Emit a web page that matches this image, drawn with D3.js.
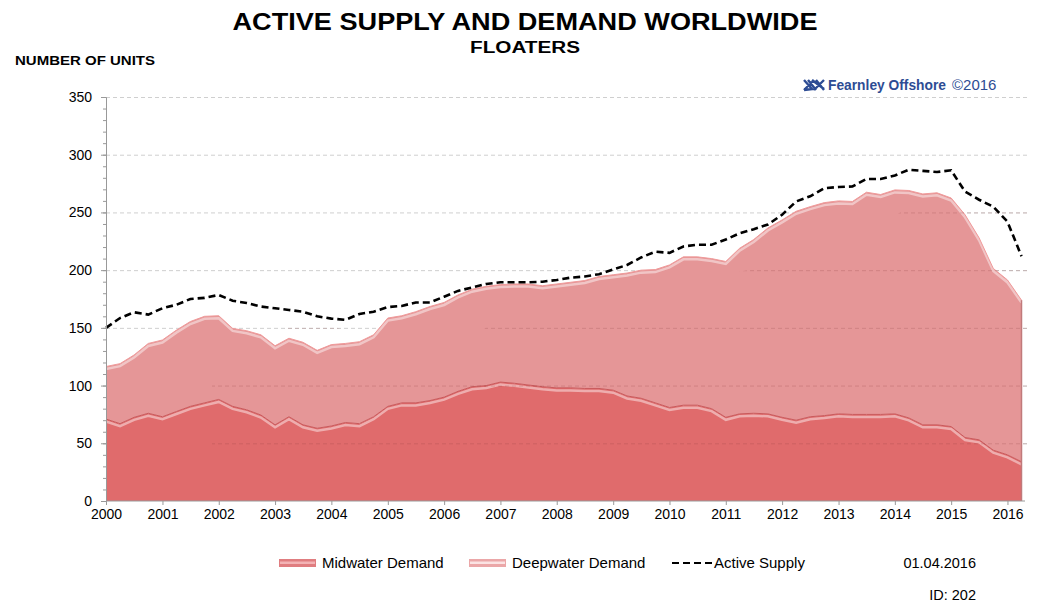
<!DOCTYPE html>
<html>
<head>
<meta charset="utf-8">
<script src="https://cdn.jsdelivr.net/npm/d3@7"></script>
<style>
  body { margin: 0; background: #fff; }
  svg text { font-family: "Liberation Sans", Arial, sans-serif; }
</style>
</head>
<body>
<svg id="chart" width="1038" height="604"></svg>
<script>
// quarterly observations
const periods = [
  "2000-01","2000-04","2000-07","2000-10","2001-01","2001-04","2001-07","2001-10",
  "2002-01","2002-04","2002-07","2002-10","2003-01","2003-04","2003-07","2003-10",
  "2004-01","2004-04","2004-07","2004-10","2005-01","2005-04","2005-07","2005-10",
  "2006-01","2006-04","2006-07","2006-10","2007-01","2007-04","2007-07","2007-10",
  "2008-01","2008-04","2008-07","2008-10","2009-01","2009-04","2009-07","2009-10",
  "2010-01","2010-04","2010-07","2010-10","2011-01","2011-04","2011-07","2011-10",
  "2012-01","2012-04","2012-07","2012-10","2013-01","2013-04","2013-07","2013-10",
  "2014-01","2014-04","2014-07","2014-10","2015-01","2015-04","2015-07","2015-10",
  "2016-01","2016-04"
];
const midwater = [
  71, 67, 72.5, 76, 73, 77.5, 82, 85,
  88, 82, 79, 74.5, 66, 73, 66, 63,
  65, 68, 67, 73, 82, 85, 85, 87,
  90, 95, 99, 100, 103, 102, 100.5, 99,
  98, 98, 97.5, 97.5, 96, 91, 89, 85,
  81, 83, 83, 80, 72.5, 75.5, 76, 75.5,
  72.5, 70, 73, 74, 75.5, 75, 75, 75,
  75.5, 72, 66, 66, 64.5, 55, 53, 44,
  40, 34
];
const deepwater = [
  45.5, 52, 54, 60.5, 66.5, 70.5, 73.5, 75,
  72.5, 67.5, 68.5, 69.5, 68.5, 68, 71.5, 67.5,
  70.5, 68.5, 71, 71, 76.5, 75.5, 79, 81.5,
  82, 83.5, 84.5, 86, 84.5, 86, 87.5, 87.5,
  90, 91.5, 93.5, 97, 100, 106.5, 111, 115.5,
  123.5, 128.5, 128.5, 130, 135, 143.5, 150.5, 161,
  171, 181, 182, 184.5, 184.5, 184.5, 192.5, 190.5,
  194, 197, 200, 201, 198, 193, 175, 157.5,
  151.5, 140
];
const activeSupply = [
  150, 158.5, 163.5, 161.5, 167, 170, 175, 176,
  178.5, 173.5, 171.5, 168.5, 167, 165.5, 164, 160,
  158, 157, 162, 164, 168, 169, 172, 172,
  177, 182, 185, 188, 189.5, 189.5, 189.5, 190,
  191.5, 193.5, 194.5, 196.5, 200.5, 204.5, 211, 216,
  215, 220.5, 222, 222, 226.5, 232, 235.5, 239.5,
  248, 259.5, 264, 271, 272, 272.5, 279, 279,
  282, 287, 286, 285, 286.5, 268, 261, 255,
  242, 212
];
const yTicks = [0, 50, 100, 150, 200, 250, 300, 350];

const parse = d3.timeParse("%Y-%m");
const rows = periods.map((p, i) => ({
  date: parse(p), mid: midwater[i], deep: deepwater[i], supply: activeSupply[i]
}));

const svg = d3.select("#chart");
const x = d3.scaleTime()
  .domain([parse("2000-01"), parse("2016-04")])
  .range([106, 1021.5]);
const y = d3.scaleLinear().domain([0, 350]).range([501, 97]);

// titles
svg.append("text").attr("x", 525).attr("y", 30).attr("text-anchor", "middle")
  .attr("font-size", 23).attr("font-weight", "bold")
  .attr("textLength", 585).attr("lengthAdjust", "spacingAndGlyphs")
  .text("ACTIVE SUPPLY AND DEMAND WORLDWIDE");
svg.append("text").attr("x", 525).attr("y", 53).attr("text-anchor", "middle")
  .attr("font-size", 16).attr("font-weight", "bold")
  .attr("textLength", 110).attr("lengthAdjust", "spacingAndGlyphs")
  .text("FLOATERS");
svg.append("text").attr("x", 15).attr("y", 65)
  .attr("font-size", 12.5).attr("font-weight", "bold")
  .attr("textLength", 140).attr("lengthAdjust", "spacingAndGlyphs")
  .text("NUMBER OF UNITS");

// gridlines (behind)
svg.append("g").attr("class", "gridlines")
  .attr("transform", "translate(106,0)")
  .call(d3.axisLeft(y).tickValues(yTicks.slice(1)).tickSize(-922).tickFormat(""))
  .call(g => g.select(".domain").remove())
  .call(g => g.selectAll("line").attr("stroke", "#cfcfcf").attr("stroke-dasharray", "4,3"));

// stacked areas
const stack = d3.stack().keys(["mid", "deep"]);
const layers = stack(rows);
const fills = { mid: "#e06b6c", deep: "#e59697" };
const edges = { mid: "#c9595b", deep: "#f09a9a" };
const area = d3.area().x(d => x(d.data.date)).y0(d => y(d[0])).y1(d => y(d[1]));
const topLine = d3.line().x(d => x(d.data.date)).y(d => y(d[1]));

svg.append("g").selectAll("path.area")
  .data(layers).join("path")
  .attr("class", "area")
  .attr("fill", d => fills[d.key])
  .attr("d", area);

// glossy edges on top of each layer
const edgeG = svg.append("g");
edgeG.selectAll("path.glow")
  .data(layers).join("path")
  .attr("fill", "none").attr("stroke", "#fff").attr("stroke-opacity", 0.45)
  .attr("stroke-width", 2.5)
  .attr("transform", "translate(0,2.5)")
  .attr("d", topLine);
edgeG.selectAll("path.edge")
  .data(layers).join("path")
  .attr("fill", "none").attr("stroke", d => edges[d.key])
  .attr("stroke-width", 1)
  .attr("d", topLine);

// right edge of area
const last = layers[1][layers[1].length - 1];
svg.append("line")
  .attr("x1", x(last.data.date)).attr("x2", x(last.data.date))
  .attr("y1", y(last[1])).attr("y2", y(0))
  .attr("stroke", "#c07a7b").attr("stroke-width", 1.5);

// gridlines faintly over the areas, clipped to the stacked shape
svg.append("clipPath").attr("id", "areaClip")
  .append("path")
  .attr("d", d3.area().x(d => x(d.data.date)).y0(y(0)).y1(d => y(d[1]))(layers[1]));
svg.append("g")
  .attr("transform", "translate(106,0)")
  .attr("clip-path", "url(#areaClip)")
  .call(d3.axisLeft(y).tickValues(yTicks.slice(1)).tickSize(-922).tickFormat(""))
  .call(g => g.select(".domain").remove())
  .call(g => g.selectAll("line").attr("stroke", "#8a3a3a").attr("stroke-opacity", 0.22).attr("stroke-dasharray", "4,3"));

// active supply
svg.append("path")
  .datum(rows)
  .attr("fill", "none").attr("stroke", "#000")
  .attr("stroke-width", 2.6).attr("stroke-dasharray", "7,4")
  .attr("d", d3.line().x(d => x(d.date)).y(d => y(d.supply)));

// y axis with minor ticks
const yMinor = svg.append("g").attr("transform", "translate(106,0)")
  .call(d3.axisLeft(y).ticks(35).tickSize(3).tickFormat(""));
yMinor.selectAll("line").attr("stroke", "#999");
yMinor.select(".domain").attr("stroke", "#999");
const yAxis = svg.append("g").attr("transform", "translate(106,0)")
  .call(d3.axisLeft(y).tickValues(yTicks).tickSize(5).tickPadding(9));
yAxis.select(".domain").remove();
yAxis.selectAll("line").attr("stroke", "#999");
yAxis.selectAll("text").attr("font-size", 14).attr("fill", "#000")
  .attr("font-family", "Liberation Sans, Arial, sans-serif");

// x axis
const xAxis = svg.append("g").attr("transform", "translate(0,501)")
  .call(d3.axisBottom(x).ticks(d3.timeYear.every(1)).tickFormat(d3.timeFormat("%Y"))
    .tickSize(4).tickPadding(4).tickSizeOuter(0));
xAxis.select(".domain").attr("stroke", "#999").attr("d", "M106,0H1025");
xAxis.selectAll("line").attr("stroke", "#999");
xAxis.selectAll("text").attr("font-size", 14).attr("fill", "#000")
  .attr("font-family", "Liberation Sans, Arial, sans-serif");

// branding
const brand = svg.append("g").attr("transform", "translate(804,90)");
brand.append("path")
  .attr("d", "M0,-10 L8,-1 L0,0 M4,-10 L12,0 M12,-10 L20,0 M8,-10 L20,-1 M0,0 L10,-10 M10,0 L20,-10")
  .attr("stroke", "#2d4c94").attr("stroke-width", 2.4).attr("fill", "none");
brand.append("text").attr("x", 24).attr("y", 0)
  .attr("font-size", 15).attr("font-weight", "bold").attr("fill", "#2d4c94")
  .attr("textLength", 118).attr("lengthAdjust", "spacingAndGlyphs")
  .text("Fearnley Offshore");
brand.append("text").attr("x", 148).attr("y", 0)
  .attr("font-size", 15).attr("fill", "#2d4c94")
  .text("©2016");

// legend
const leg = svg.append("g").attr("transform", "translate(0,563)");
[
  { x: 279, label: "Midwater Demand", fill: "#e07d80", stripe: "#f3b3b5" },
  { x: 469, label: "Deepwater Demand", fill: "#eba7a8", stripe: "#fbe3e3" }
].forEach(s => {
  leg.append("rect").attr("x", s.x).attr("y", -4).attr("width", 37).attr("height", 8)
    .attr("fill", s.fill);
  leg.append("rect").attr("x", s.x + 1).attr("y", -1.5).attr("width", 35).attr("height", 2.5)
    .attr("fill", s.stripe);
  leg.append("text").attr("x", s.x + 43).attr("y", 5).attr("font-size", 15)
    .text(s.label);
});
leg.append("line").attr("x1", 672).attr("x2", 712).attr("y1", 0).attr("y2", 0)
  .attr("stroke", "#000").attr("stroke-width", 2.2).attr("stroke-dasharray", "7,4");
leg.append("text").attr("x", 714).attr("y", 5).attr("font-size", 15).text("Active Supply");
leg.append("text").attr("x", 976).attr("y", 5).attr("font-size", 14.5)
  .attr("text-anchor", "end").text("01.04.2016");
svg.append("text").attr("x", 976).attr("y", 600).attr("font-size", 14.5)
  .attr("text-anchor", "end").text("ID: 202");
</script>
</body>
</html>
